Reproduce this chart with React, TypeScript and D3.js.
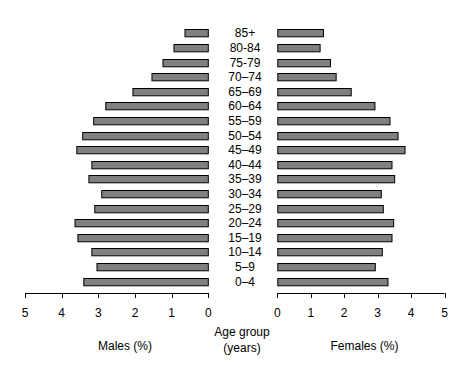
import * as React from 'react';
import * as d3 from 'd3';

const ageGroups = ['85+', '80-84', '75-79', '70–74', '65–69', '60–64', '55–59', '50–54', '45–49', '40–44',
    '35–39', '30–34', '25–29', '20–24', '15–19', '10–14', '5–9', '0–4'];
const males = [0.65, 0.95, 1.25, 1.55, 2.07, 2.81, 3.14, 3.44, 3.6, 3.19,
    3.27, 2.92, 3.11, 3.65, 3.57, 3.19, 3.05, 3.41];
const females = [1.38, 1.28, 1.59, 1.76, 2.21, 2.92, 3.37, 3.61, 3.82, 3.43,
    3.51, 3.11, 3.17, 3.48, 3.43, 3.14, 2.93, 3.31];
const ticks = [0, 1, 2, 3, 4, 5];

const width = 467;
const height = 373;
const font = '"Liberation Sans", Arial, sans-serif';

const App: React.FunctionComponent = () => {
    const ref = React.useRef<SVGSVGElement>(null);

    React.useEffect(() => {
        if (!ref.current) {
            return;
        }
        const svg = d3.select(ref.current);
        svg.selectAll('*').remove();

        const y = d3.scaleBand<string>().domain(ageGroups).range([22.2, 292.2]).padding(0.5);
        const xLeft = d3.scaleLinear().domain([0, 5]).range([208.3, 25]);
        const xRight = d3.scaleLinear().domain([0, 5]).range([277.3, 444.5]);
        const axisY = 293;

        const g = svg.append('g').attr('font-family', font).attr('font-size', 12).attr('fill', '#000');

        g.selectAll('rect.male')
            .data(males)
            .join('rect')
            .attr('class', 'male')
            .attr('x', d => xLeft(d) + 0.5)
            .attr('y', (d, i) => Math.round(y(ageGroups[i])!) + 0.5)
            .attr('width', d => xLeft(0) - xLeft(d) - 0.5)
            .attr('height', y.bandwidth())
            .attr('style', 'fill: #808080; stroke: #000; stroke-width: 1;');

        g.selectAll('rect.female')
            .data(females)
            .join('rect')
            .attr('class', 'female')
            .attr('x', xRight(0) + 0.5)
            .attr('y', (d, i) => Math.round(y(ageGroups[i])!) + 0.5)
            .attr('width', d => xRight(d) - xRight(0) - 0.5)
            .attr('height', y.bandwidth())
            .attr('style', 'fill: #808080; stroke: #000; stroke-width: 1;');

        g.selectAll('text.age')
            .data(ageGroups)
            .join('text')
            .attr('class', 'age')
            .attr('x', 245)
            .attr('y', d => y(d)! + y.bandwidth() / 2 + 4.3)
            .attr('text-anchor', 'middle')
            .text(d => d);

        // axes, ticks pointing down
        [xLeft, xRight].forEach(sc => {
            const ax = g.append('g');
            ax.append('line')
                .attr('x1', sc(0)).attr('x2', sc(5))
                .attr('y1', axisY + 0.5).attr('y2', axisY + 0.5)
                .attr('stroke', '#000');
            ax.selectAll('line.tick')
                .data(ticks)
                .join('line')
                .attr('class', 'tick')
                .attr('x1', d => Math.round(sc(d)) + 0.5).attr('x2', d => Math.round(sc(d)) + 0.5)
                .attr('y1', axisY).attr('y2', axisY + 5)
                .attr('stroke', '#000');
            ax.selectAll('text')
                .data(ticks)
                .join('text')
                .attr('x', d => sc(d))
                .attr('y', 316.5)
                .attr('text-anchor', 'middle')
                .text(d => d);
        });

        g.append('text').attr('x', 242).attr('y', 335.5).attr('text-anchor', 'middle').text('Age group');
        g.append('text').attr('x', 242).attr('y', 352).attr('text-anchor', 'middle').text('(years)');
        g.append('text').attr('x', 125).attr('y', 350).attr('text-anchor', 'middle').text('Males (%)');
        g.append('text').attr('x', 364.5).attr('y', 350).attr('text-anchor', 'middle').text('Females (%)');
    });

    return <svg ref={ref} width={width} height={height}
        style={{ position: 'absolute', left: 0, top: 0, background: '#fff' }} />;
};

export default App;
